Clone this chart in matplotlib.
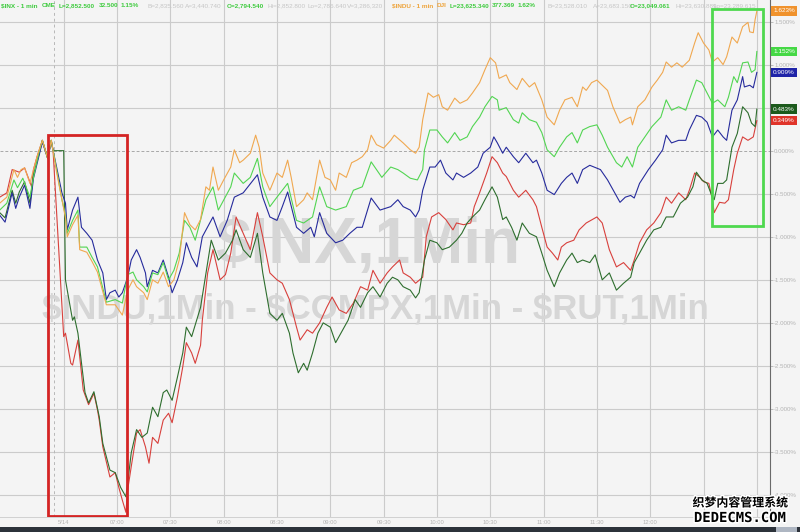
import matplotlib

matplotlib.use("Agg")

import matplotlib.pyplot as plt
import matplotlib.patheffects as pe
from matplotlib.patches import Rectangle
from matplotlib.transforms import blended_transform_factory

plt.rcParams["font.family"] = ["Liberation Sans", "DejaVu Sans"]

# minutes after 06:00, percent change
orange_min = [-6, -2, 2, 4, 6, 8, 11, 13, 15, 18,
              21, 23, 26, 29, 31, 32, 35, 38, 39, 43,
              46, 49, 54, 59, 63, 66, 69, 71, 75, 77,
              80, 83, 86, 89, 92, 95, 98, 101, 104, 107,
              110, 112, 114, 117, 120, 124, 126, 129, 131, 135,
              138, 140, 142, 146, 150, 153, 156, 158, 161, 165,
              167, 170, 174, 177, 180, 183, 185, 189, 192, 195,
              198, 201, 203, 206, 210, 214, 216, 221, 225, 228,
              230, 232, 235, 238, 241, 243, 246, 250, 253, 257,
              260, 264, 267, 270, 273, 275, 279, 281, 285, 288,
              292, 295, 299, 302, 306, 309, 312, 316, 319, 322,
              324, 327, 330, 336, 339, 343, 346, 349, 350, 353,
              357, 361, 364, 367, 369, 372, 375, 378, 382, 385,
              387, 390, 393, 395, 398, 401, 403, 406, 409, 412,
              415, 416, 418, 419, 420]
orange_pct = [-0.61, -0.54, -0.22, -0.31, -0.22, -0.20, -0.38, -0.22, -0.07, 0.12,
              -0.09, 0.12, -0.25, -0.57, -0.78, -1.00, -0.86, -0.75, -1.15, -1.18,
              -1.29, -1.41, -1.79, -1.79, -1.91, -1.62, -1.50, -1.58, -1.65, -1.73,
              -1.50, -1.54, -1.41, -1.58, -1.50, -1.27, -0.72, -0.86, -0.92, -0.80,
              -0.42, -0.46, -0.19, -0.46, -0.34, -0.19, 0.01, -0.14, -0.11, -0.03,
              0.18, 0.04, -0.26, -0.46, -0.26, -0.31, -0.11, -0.31, -0.65, -0.57,
              -0.49, -0.57, -0.11, -0.31, -0.34, -0.46, -0.26, -0.31, -0.14, -0.11,
              -0.07, 0.01, 0.18, 0.07, 0.03, 0.12, 0.18, 0.09, 0.01, -0.03,
              0.04, 0.36, 0.67, 0.62, 0.65, 0.51, 0.47, 0.61, 0.55, 0.59,
              0.67, 0.79, 0.94, 1.08, 1.02, 0.84, 0.88, 0.79, 0.71, 0.84,
              0.74, 0.79, 0.59, 0.39, 0.30, 0.47, 0.59, 0.62, 0.51, 0.74,
              0.70, 0.79, 0.82, 0.70, 0.51, 0.32, 0.36, 0.39, 0.30, 0.51,
              0.59, 0.74, 0.82, 0.91, 1.03, 0.97, 1.02, 0.97, 1.05, 1.25,
              1.37, 1.25, 1.17, 1.03, 1.08, 1.00, 1.09, 1.32, 1.25, 1.44,
              1.49, 1.38, 1.37, 1.52, 1.623]

lime_min = [-6, -2, 2, 4, 7, 11, 13, 16, 18, 21,
            23, 26, 29, 31, 32, 35, 38, 39, 43, 46,
            49, 54, 59, 63, 66, 69, 71, 75, 77, 80,
            83, 86, 89, 92, 95, 98, 101, 104, 110, 114,
            117, 124, 126, 131, 135, 139, 142, 146, 150, 156,
            161, 165, 170, 174, 178, 183, 189, 193, 198, 203,
            209, 214, 218, 221, 225, 229, 232, 233, 236, 240,
            243, 246, 250, 253, 257, 260, 264, 267, 271, 274,
            275, 279, 283, 286, 288, 292, 296, 299, 302, 306,
            309, 313, 316, 319, 322, 326, 330, 333, 336, 341,
            344, 347, 350, 353, 357, 361, 366, 369, 372, 376,
            380, 382, 386, 389, 392, 395, 398, 402, 404, 407,
            409, 412, 415, 417, 419, 420]
lime_pct = [-0.69, -0.61, -0.34, -0.43, -0.32, -0.54, -0.31, -0.03, 0.12, -0.09,
            0.12, -0.22, -0.57, -0.75, -0.96, -0.81, -0.69, -1.12, -1.12, -1.24,
            -1.35, -1.76, -1.73, -1.77, -1.44, -1.41, -1.50, -1.58, -1.64, -1.42,
            -1.44, -1.30, -1.50, -1.39, -1.19, -0.81, -0.89, -1.04, -0.57, -0.42,
            -0.69, -0.42, -0.26, -0.38, -0.31, -0.09, -0.42, -0.65, -0.54, -0.38,
            -0.81, -0.84, -0.77, -0.42, -0.65, -0.69, -0.65, -0.46, -0.42, -0.13,
            -0.31, -0.19, -0.22, -0.26, -0.32, -0.34, -0.22, 0.01, 0.24, 0.24,
            0.16, 0.09, 0.21, 0.12, 0.16, 0.28, 0.39, 0.51, 0.63, 0.59,
            0.47, 0.50, 0.36, 0.32, 0.44, 0.36, 0.33, 0.21, 0.01, -0.07,
            0.04, 0.16, 0.21, 0.09, 0.24, 0.28, 0.30, 0.18, 0.04, -0.14,
            -0.19, -0.07, -0.19, 0.04, 0.16, 0.28, 0.39, 0.59, 0.47, 0.51,
            0.47, 0.59, 0.82, 0.79, 0.67, 0.55, 0.59, 0.51, 0.62, 0.86,
            0.79, 1.02, 1.03, 0.91, 0.94, 1.152]

blue_min = [-6, -3, 1, 3, 5, 8, 11, 13, 16, 18,
            21, 23, 26, 29, 31, 32, 35, 38, 40, 43,
            46, 49, 52, 54, 56, 59, 61, 63, 66, 68,
            71, 73, 76, 77, 80, 83, 86, 89, 91, 94,
            97, 99, 102, 105, 108, 114, 118, 122, 126, 131,
            139, 142, 146, 150, 153, 156, 161, 165, 169, 171,
            174, 178, 183, 187, 191, 195, 198, 203, 208, 214,
            218, 221, 225, 228, 230, 232, 236, 239, 242, 245,
            249, 251, 255, 259, 263, 266, 270, 272, 274, 277,
            279, 283, 286, 290, 294, 296, 299, 302, 306, 310,
            313, 316, 319, 322, 326, 332, 336, 340, 343, 346,
            349, 351, 354, 359, 363, 367, 369, 372, 376, 380,
            382, 386, 389, 392, 395, 398, 401, 403, 406, 409,
            412, 413, 416, 418, 420]
blue_pct = [-0.75, -0.83, -0.49, -0.67, -0.54, -0.40, -0.67, -0.32, -0.07, 0.10,
            -0.09, 0.10, -0.19, -0.49, -0.61, -0.92, -0.69, -0.54, -0.89, -0.96,
            -1.04, -1.27, -1.42, -1.73, -1.65, -1.62, -1.70, -1.65, -1.47, -1.27,
            -1.15, -1.24, -1.42, -1.58, -1.39, -1.42, -1.27, -1.47, -1.65, -1.50,
            -1.30, -1.07, -1.24, -1.35, -1.00, -0.77, -1.00, -0.81, -0.54, -0.49,
            -0.28, -0.54, -0.77, -0.81, -0.65, -0.48, -0.89, -0.96, -0.89, -1.00,
            -0.72, -0.96, -1.07, -1.04, -0.96, -0.89, -0.89, -0.55, -0.69, -0.65,
            -0.57, -0.65, -0.69, -0.77, -0.69, -0.46, -0.19, -0.19, -0.11, -0.26,
            -0.34, -0.26, -0.31, -0.26, -0.19, -0.03, 0.04, 0.16, 0.09, -0.03,
            0.04, -0.07, -0.14, -0.03, -0.14, -0.11, -0.26, -0.46, -0.51, -0.38,
            -0.31, -0.26, -0.38, -0.22, -0.17, -0.22, -0.34, -0.49, -0.60, -0.54,
            -0.52, -0.55, -0.38, -0.22, -0.11, 0.01, 0.18, 0.09, 0.12, 0.12,
            0.24, 0.41, 0.39, 0.33, 0.16, 0.24, 0.16, 0.12, 0.47, 0.59,
            0.86, 0.74, 0.76, 0.73, 0.909]

red_min = [-6, -2, 1, 5, 8, 12, 13, 15, 18, 21,
           23, 24, 30, 31, 34, 35, 38, 41, 44, 47,
           49, 50, 52, 56, 59, 61, 63, 65, 66, 68,
           71, 73, 76, 78, 80, 83, 86, 89, 91, 94,
           97, 99, 102, 104, 107, 108, 111, 114, 118, 121,
           124, 127, 131, 135, 139, 142, 146, 150, 153, 157,
           161, 163, 167, 170, 174, 178, 181, 185, 189, 193,
           197, 201, 204, 208, 212, 215, 219, 221, 225, 228,
           232, 234, 237, 241, 245, 249, 251, 255, 259, 261,
           264, 268, 271, 274, 277, 279, 283, 286, 290, 294,
           296, 299, 302, 305, 308, 310, 313, 317, 320, 324,
           330, 333, 337, 341, 345, 349, 351, 354, 358, 362,
           366, 369, 372, 376, 380, 382, 385, 388, 390, 393,
           395, 396, 399, 402, 404, 407, 409, 412, 415, 418,
           420]
red_pct = [-0.54, -0.49, -0.22, -0.25, -0.20, -0.42, -0.22, -0.07, 0.12, -0.09,
           0.12, 0.01, -2.16, -2.12, -2.47, -2.49, -2.20, -2.78, -2.95, -2.82,
           -3.01, -3.13, -3.44, -3.79, -3.74, -3.91, -4.06, -4.20, -3.94, -3.67,
           -3.28, -3.24, -3.44, -3.63, -3.33, -3.40, -3.13, -3.05, -3.16, -2.86,
           -2.51, -2.23, -2.35, -2.47, -2.26, -1.97, -1.42, -1.15, -1.50, -1.44,
           -1.19, -0.77, -0.96, -1.15, -0.72, -1.00, -1.42, -1.50, -1.54, -1.73,
           -2.05, -2.20, -2.08, -2.12, -2.00, -1.82, -1.70, -1.85, -1.89, -1.77,
           -1.58, -1.62, -1.39, -1.54, -1.42, -1.35, -1.27, -1.42, -1.47, -1.54,
           -1.47, -1.00, -0.77, -0.72, -0.80, -0.92, -0.84, -0.86, -0.84, -0.65,
           -0.49, -0.26, -0.07, -0.14, -0.26, -0.30, -0.46, -0.54, -0.46, -0.57,
           -0.65, -0.89, -1.12, -1.19, -1.27, -1.12, -1.07, -1.04, -0.92, -0.84,
           -0.77, -0.84, -1.15, -1.35, -1.30, -1.39, -1.27, -1.07, -0.92, -0.84,
           -0.72, -0.54, -0.61, -0.49, -0.57, -0.46, -0.26, -0.31, -0.36, -0.38,
           -0.57, -0.72, -0.60, -0.61, -0.57, -0.22, -0.03, 0.16, 0.12, 0.16,
           0.349]

dkgreen_min = [-6, -3, 1, 3, 5, 8, 11, 13, 16, 18,
               21, 23, 24, 30, 31, 32, 35, 36, 38, 40,
               42, 44, 47, 50, 52, 56, 59, 62, 65, 66,
               68, 71, 74, 77, 80, 83, 86, 88, 91, 94,
               97, 99, 102, 107, 111, 113, 117, 121, 125, 127,
               131, 135, 139, 142, 146, 150, 153, 157, 159, 162,
               165, 167, 170, 173, 176, 180, 183, 187, 190, 194,
               197, 201, 204, 208, 212, 215, 218, 221, 225, 228,
               230, 233, 236, 240, 243, 247, 251, 254, 257, 260,
               264, 267, 271, 274, 277, 279, 282, 285, 288, 292,
               296, 299, 302, 306, 309, 313, 316, 319, 322, 326,
               329, 333, 337, 341, 345, 349, 351, 354, 358, 362,
               366, 369, 373, 377, 381, 384, 386, 389, 392, 395,
               396, 398, 401, 403, 406, 409, 412, 415, 417, 419,
               420]
dkgreen_pct = [-0.72, -0.78, -0.46, -0.61, -0.48, -0.36, -0.61, -0.28, -0.05, 0.12,
               -0.09, 0.12, 0.00, 0.00, -1.50, -1.62, -1.97, -1.93, -2.12, -2.46,
               -2.81, -2.93, -2.80, -3.09, -3.40, -3.71, -3.74, -3.91, -4.02, -3.86,
               -3.51, -3.24, -3.33, -3.28, -2.98, -3.09, -2.81, -2.78, -2.90, -2.63,
               -2.35, -2.05, -2.16, -1.82, -1.30, -1.04, -1.27, -1.19, -1.04, -0.92,
               -1.15, -1.24, -0.96, -1.42, -1.89, -1.97, -1.89, -2.12, -2.35, -2.58,
               -2.47, -2.55, -2.35, -2.12, -2.00, -2.05, -2.23, -2.08, -1.97, -1.73,
               -1.82, -1.65, -1.58, -1.70, -1.54, -1.47, -1.50, -1.58, -1.62, -1.71,
               -1.65, -1.27, -1.04, -1.07, -1.15, -1.12, -1.04, -0.96, -0.84, -0.77,
               -0.69, -0.57, -0.42, -0.54, -0.80, -0.77, -0.89, -1.04, -0.84, -0.96,
               -1.00, -1.19, -1.39, -1.58, -1.42, -1.27, -1.19, -1.30, -1.27, -1.30,
               -1.21, -1.50, -1.42, -1.62, -1.54, -1.47, -1.30, -1.19, -1.04, -0.92,
               -0.89, -0.77, -0.77, -0.61, -0.54, -0.42, -0.25, -0.34, -0.38, -0.54,
               -0.57, -0.38, -0.38, -0.34, 0.04, 0.20, 0.51, 0.44, 0.32, 0.28,
               0.483]

# 12:30 and 13:00 labels sit under the site watermark in the reference
x_tick_min = [30, 60, 90, 120, 150, 180, 210, 240, 270, 300, 330, 360, 390, 420]
x_tick_labels = ["5/14", "07:00", "07:30", "08:00", "08:30", "09:00", "09:30",
                 "10:00", "10:30", "11:00", "11:30", "12:00", "", ""]
y_ticks = [1.5, 1.0, 0.5, 0.0, -0.5, -1.0, -1.5, -2.0, -2.5, -3.0, -3.5, -4.0]

GREEN_HDR = "#3ecb3e"
GREY_HDR = "#c6c6c6"
ORANGE_HDR = "#eea43c"
header = [
    (1, "$INX - 1 min", GREEN_HDR), (42, "CME", GREEN_HDR),
    (59, "L=2,852.500", GREEN_HDR), (99, "32.500", GREEN_HDR),
    (121, "1.15%", GREEN_HDR), (147, "B=2,835.560", GREY_HDR),
    (185, "A=3,440.740", GREY_HDR), (227, "O=2,794.540", GREEN_HDR),
    (267, "Hi=2,852.800", GREY_HDR), (307, "Lo=2,786.640", GREY_HDR),
    (347, "V=3,286,320", GREY_HDR), (392, "$INDU - 1 min", ORANGE_HDR),
    (437, "DJI", ORANGE_HDR), (450, "L=23,625.340", GREEN_HDR),
    (492, "377.369", GREEN_HDR), (518, "1.62%", GREEN_HDR),
    (547, "B=23,528.010", GREY_HDR), (593, "A=23,683.150", GREY_HDR),
    (630, "O=23,049.061", GREEN_HDR), (675, "Hi=23,630.889", GREY_HDR),
    (713, "Lo=23,289.615", GREY_HDR),
]

series = [
    (red_min, red_pct, "#d8403c"),
    (dkgreen_min, dkgreen_pct, "#2e6e2e"),
    (blue_min, blue_pct, "#262b9c"),
    (lime_min, lime_pct, "#52d552"),
    (orange_min, orange_pct, "#f0a850"),
]
badges = [
    (orange_pct[-1], "#f0922c"),
    (lime_pct[-1], "#45d845"),
    (blue_pct[-1], "#1f24a8"),
    (dkgreen_pct[-1], "#1c5a1c"),
    (red_pct[-1], "#e0342a"),
]

BG = "#f4f4f4"
W, H = 800, 532

fig = plt.figure(figsize=(W / 100, H / 100), dpi=100, facecolor=BG)
ax = fig.add_axes([0, 15 / H, 770 / W, 517 / H])
ax.set_facecolor(BG)
ax.set_xlim(-5.84, 427.4)
ax.set_ylim(-4.255, 1.75)

for v in y_ticks:
    if v == 0:
        ax.axhline(v, color="#a8a8a8", lw=0.7, ls=(0, (3, 2)), zorder=0.5)
    else:
        ax.axhline(v, color="#cbcbcb", lw=0.8, zorder=0.5)
for m in x_tick_min:
    ax.axvline(m, color="#cbcbcb", lw=0.8, zorder=0.5)
ax.axvline(24.5, color="#b8b8b8", lw=0.7, ls=(0, (3, 3)), zorder=0.5)

# chart watermark
ax.text(215 / W, 1 - 263 / H, "$INX,1Min", transform=fig.transFigure,
        fontsize=46, fontweight="bold", color="#d6d6d6", ha="left", va="baseline", zorder=1)
ax.text(42 / W, 1 - 318 / H, "$INDU,1Min - $COMPX,1Min - $RUT,1Min", transform=fig.transFigure,
        fontsize=25, fontweight="bold", color="#d6d6d6", ha="left", va="baseline", zorder=1)

for mins, pct, color in series:
    ax.plot(mins, pct, color=color, lw=0.8, zorder=3)

ax.add_patch(Rectangle((21.2, -4.24), 44.4, 4.42, fill=False, ec="#d42424", lw=2.0, zorder=4))
ax.add_patch(Rectangle((394.8, -0.875), 28.7, 2.52, fill=False, ec="#4fd84f", lw=2.0, zorder=4))

ax.yaxis.tick_right()
ax.set_yticks(y_ticks)
ax.set_yticklabels([f"{v:.3f}%" for v in y_ticks])
ax.tick_params(axis="y", length=2, width=0.6, color="#b4b4b4", labelsize=4.4,
               labelcolor="#b4b4b4", pad=1)
ax.set_xticks(x_tick_min)
ax.set_xticklabels(x_tick_labels)
ax.tick_params(axis="x", length=0, labelsize=4.2, labelcolor="#b4b4b4", pad=2.5)
for side in ("top", "left"):
    ax.spines[side].set_visible(False)
ax.spines["bottom"].set_color("#d0d0d0")
ax.spines["bottom"].set_linewidth(0.7)
ax.spines["right"].set_color("#6a6a6a")
ax.spines["right"].set_linewidth(0.8)

trans = blended_transform_factory(ax.transAxes, ax.transData)
for value, color in badges:
    ax.text(1.004, value, f"{value:.3f}%", transform=trans, ha="left", va="center",
            fontsize=4.6, color="white", clip_on=False, zorder=6,
            bbox=dict(boxstyle="square,pad=0.35", fc=color, ec="none"))

for x_px, text, color in header:
    fig.text(x_px / W, 1 - 5.5 / H, text, ha="left", va="center", fontsize=4.6,
             color=color, fontweight="bold" if color != GREY_HDR else "normal")

# screenshot strip at the bottom
fig.add_artist(Rectangle((0, 0), 1, 5.5 / H, transform=fig.transFigure, fc="#2c323a", ec="none"))
fig.add_artist(Rectangle((776 / W, 0), 21 / W, 5.5 / H, transform=fig.transFigure,
                         fc="#aeb6c2", ec="none"))

stroke = [pe.withStroke(linewidth=2.2, foreground="white")]
fig.text(740 / W, 1 - 503 / H, "织梦内容管理系统", ha="center", va="center", fontsize=8.6,
         family=["Noto Sans CJK SC", "DejaVu Sans"], fontweight="bold", color="black",
         path_effects=stroke)
fig.text(740 / W, 1 - 518 / H, "DEDECMS.COM", ha="center", va="center", fontsize=10,
         family="DejaVu Sans Mono", fontweight="bold", color="black", path_effects=stroke)

fig.savefig("out.png", dpi=100, facecolor=BG)
